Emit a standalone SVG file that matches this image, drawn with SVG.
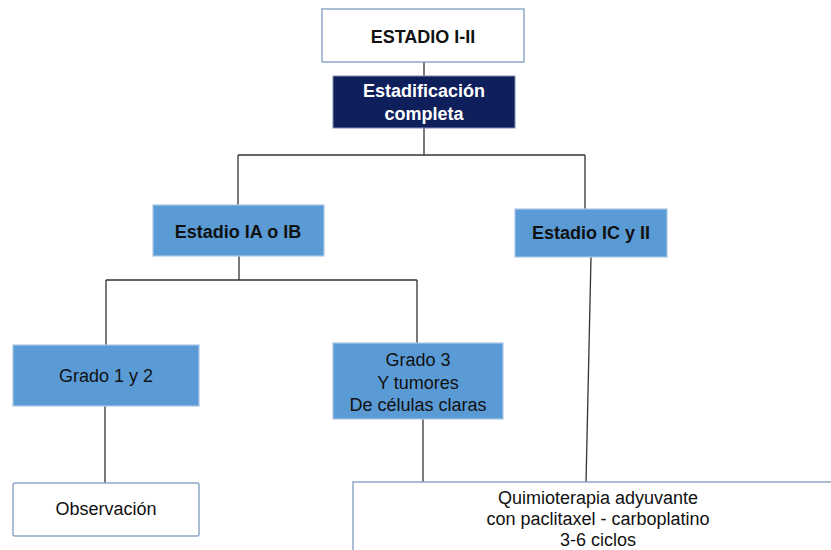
<svg xmlns="http://www.w3.org/2000/svg" width="831" height="550" viewBox="0 0 831 550">
  <style>
    .t { font-family: "Liberation Sans", Arial, sans-serif; font-size: 18px; fill: #111; text-anchor: middle; }
    .b { font-weight: bold; }
    .w { fill: #ffffff; }
    .white { fill: #ffffff; stroke: #8FA8C8; stroke-width: 1.5; }
    .navy { fill: #0F1F5C; stroke: #7F8FB0; stroke-width: 1; }
    .blue { fill: #5B9BD5; stroke: #A9C6E6; stroke-width: 1.2; }
    .conn { fill: none; stroke: #333333; stroke-width: 1.3; }
  </style>

  <g id="connectors">
    <path class="conn" d="M424 62 V76"/>
    <path class="conn" d="M424 128 V155 M238 155 H585 M238 155 V205 M585 155 V209"/>
    <path class="conn" d="M239 256 V280 M106 280 H417 M106 280 V345 M417 280 V343"/>
    <path class="conn" d="M105 406 V483"/>
    <path class="conn" d="M423 419 V483"/>
    <path class="conn" d="M591 257 L586 483"/>
  </g>

  <g id="estadio-i-ii">
    <rect class="white" x="322" y="9" width="202" height="53"/>
    <text class="t b" x="423" y="43">ESTADIO I-II</text>
  </g>

  <g id="estadificacion">
    <rect class="navy" x="333" y="76" width="182" height="52"/>
    <text class="t b w" x="424" y="97">Estadificación</text>
    <text class="t b w" x="424" y="120">completa</text>
  </g>

  <g id="estadio-ia-ib">
    <rect class="blue" x="153" y="205" width="171" height="51"/>
    <text class="t b" x="238" y="238">Estadio IA o IB</text>
  </g>

  <g id="estadio-ic-ii">
    <rect class="blue" x="515" y="209" width="152" height="48"/>
    <text class="t b" x="591" y="239">Estadio IC y II</text>
  </g>

  <g id="grado-1-2">
    <rect class="blue" x="13" y="345" width="186" height="61"/>
    <text class="t" x="106" y="382">Grado 1 y 2</text>
  </g>

  <g id="grado-3">
    <rect class="blue" x="333" y="343" width="170" height="76"/>
    <text class="t" x="418" y="366">Grado 3</text>
    <text class="t" x="418" y="389">Y tumores</text>
    <text class="t" x="418" y="411">De células claras</text>
  </g>

  <g id="observacion">
    <rect class="white" x="13" y="483" width="186" height="53" rx="2"/>
    <text class="t" x="106" y="515">Observación</text>
  </g>

  <g id="quimioterapia">
    <rect class="white" x="353" y="482" width="490" height="80"/>
    <text class="t" x="598" y="504">Quimioterapia adyuvante</text>
    <text class="t" x="598" y="525">con paclitaxel - carboplatino</text>
    <text class="t" x="598" y="546">3-6 ciclos</text>
  </g>
</svg>
